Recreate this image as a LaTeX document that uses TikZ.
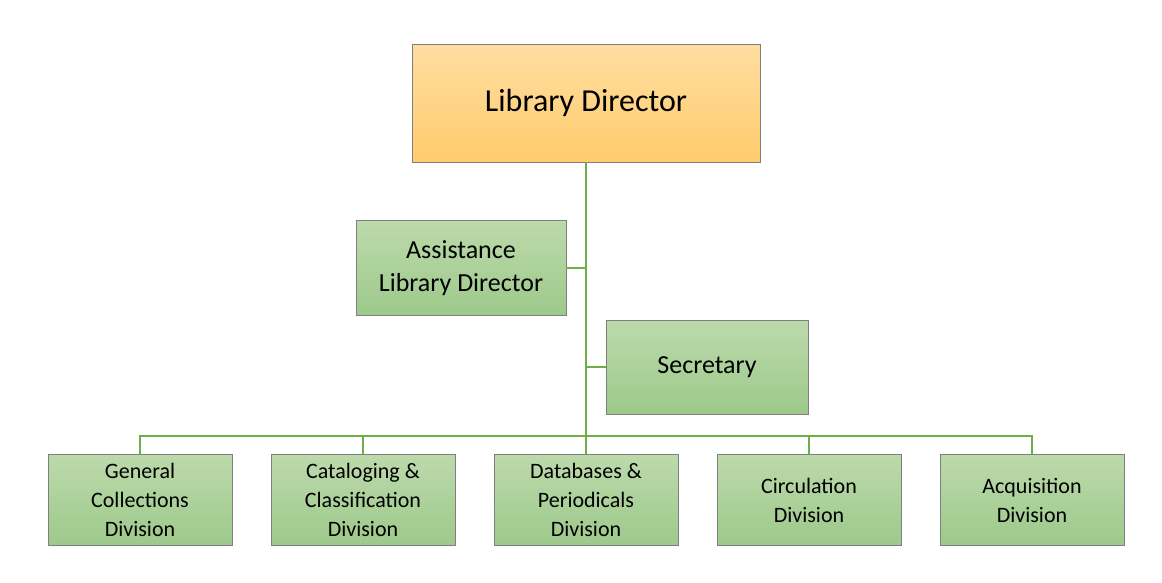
\documentclass[tikz,border=0pt]{standalone}
\usepackage{fontspec}
\setmainfont{Carlito}
\usetikzlibrary{positioning, calc}
\definecolor{orgtop}{HTML}{FFDDA0}
\definecolor{orgbot}{HTML}{FFCC6E}
\definecolor{grntop}{HTML}{BCDAAB}
\definecolor{grnbot}{HTML}{9DC98B}
\definecolor{linkgreen}{HTML}{70AD47}
\definecolor{boxedge}{HTML}{7F7F7F}

\begin{document}
\begin{tikzpicture}[x=1pt,y=-1pt,
    every node/.style={draw=boxedge,thin,align=center,inner sep=2pt},
    headbox/.style={top color=orgtop,bottom color=orgbot,minimum width=348pt,minimum height=118pt,font=\fontsize{32}{38}\selectfont},
    unitbox/.style={top color=grntop,bottom color=grnbot,font=\fontsize{22}{29}\selectfont},
    link/.style={draw=linkgreen,line width=1.2pt}]
    \useasboundingbox (0,0) rectangle (1162,582);

    \node [headbox] (director) at (586,103) {Library Director};
    \node [unitbox,minimum width=210pt,minimum height=95pt,font=\fontsize{26}{33}\selectfont] (assistant) at (461,268) {Assistance\\Library Director};
    \node [unitbox,minimum width=202pt,minimum height=94pt,font=\fontsize{26}{33}\selectfont] (secretary) at (707,367) {Secretary};

    % divisions
    \node [unitbox,minimum width=184pt,minimum height=91pt] (general) at (140,500) {General\\Collections\\Division};
    \node [unitbox,minimum width=184pt,minimum height=91pt] (cataloging) at (363,500) {Cataloging \&\\Classification\\Division};
    \node [unitbox,minimum width=184pt,minimum height=91pt] (databases) at (586,500) {Databases \&\\Periodicals\\Division};
    \node [unitbox,minimum width=184pt,minimum height=91pt] (circulation) at (809,500) {Circulation\\Division};
    \node [unitbox,minimum width=184pt,minimum height=91pt] (acquisition) at (1032,500) {Acquisition\\Division};

    \coordinate (bar) at (586,436);
    \draw [link] (director.south) -- (databases.north);
    \draw [link] (assistant.east) -- (assistant.east -| director.south);
    \draw [link] (secretary.west) -- (secretary.west -| director.south);
    \foreach \d in {general,cataloging,circulation,acquisition}
        \draw [link] (\d.north) -- (\d.north |- bar) -- (bar);
\end{tikzpicture}
\end{document}
